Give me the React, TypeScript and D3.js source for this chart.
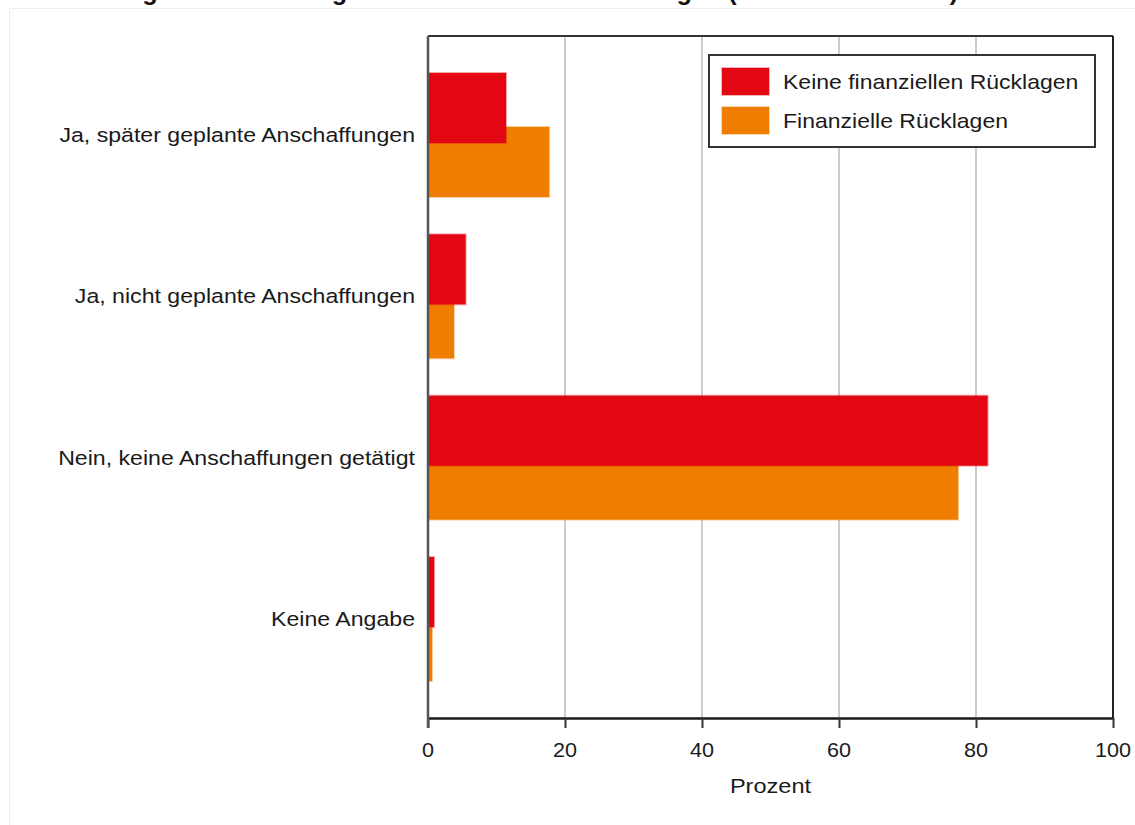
import React, { useEffect, useRef } from 'react';
import * as d3 from 'd3';

const categories = [
  'Ja, später geplante Anschaffungen',
  'Ja, nicht geplante Anschaffungen',
  'Nein, keine Anschaffungen getätigt',
  'Keine Angabe',
];

const seriesNames = ['Keine finanziellen Rücklagen', 'Finanzielle Rücklagen'];
const seriesColors = ['#e30613', '#ef7d00'];

// values in percent
const keineRuecklagen = [11.4, 5.5, 81.7, 0.9];
const ruecklagen = [17.7, 3.8, 77.4, 0.6];

const xTicks = [0, 20, 40, 60, 80, 100];

const title = 'Abbildung 5: Anschaffungen nach finanziellen Rücklagen (Anteile in Prozent)';

const App: React.FC = () => {
  const svgRef = useRef<SVGSVGElement>(null);
  const width = 1135;
  const height = 825;

  useEffect(() => {
    if (!svgRef.current) return;
    const svg = d3.select(svgRef.current);
    svg.selectAll('*').remove();

    const font = '"Liberation Sans", Arial, sans-serif';
    const sx = 1.15; // the source text is a bit wider than Liberation Sans
    const margin = { top: 36, right: 22, bottom: 107, left: 428 };
    const innerW = width - margin.left - margin.right;
    const innerH = height - margin.top - margin.bottom;

    // helper for horizontally stretched text
    const addText = (parent: any, x: number, y: number, txt: string, anchor = 'start', size = 20, scale = sx) =>
      parent.append('text')
        .attr('transform', `translate(${x},${y}) scale(${scale},1)`)
        .attr('text-anchor', anchor)
        .style('font-family', font)
        .style('font-size', `${size}px`)
        .attr('fill', '#1a1a1a')
        .text(txt);

    // faint outer frame
    svg.append('rect')
      .attr('x', 9.5).attr('y', 8.5)
      .attr('width', width).attr('height', height)
      .attr('fill', 'none')
      .attr('stroke', '#eeeeee');

    // title, mostly cut off at the top edge
    addText(svg, 33, 0, title, 'start', 26, 0.97)
      .style('font-weight', 'bold')
      .attr('fill', '#111');

    const g = svg.append('g')
      .attr('transform', `translate(${margin.left},${margin.top})`);

    const x = d3.scaleLinear().domain([0, 100]).range([0, innerW]);
    const y0 = d3.scaleBand<string>()
      .domain(categories)
      .range([0, innerH])
      .paddingInner(0.231)
      .paddingOuter(0.229);

    const bw = y0.bandwidth();
    const barH = bw * 0.565;
    const y1 = d3.scalePoint<string>()
      .domain(seriesNames)
      .range([0, bw - barH]);

    // gridlines
    g.append('g')
      .selectAll('line')
      .data(xTicks.filter(t => t > 0 && t < 100))
      .enter().append('line')
      .attr('x1', d => x(d)).attr('x2', d => x(d))
      .attr('y1', 0).attr('y2', innerH)
      .attr('stroke', '#cccccc')
      .attr('stroke-width', 2);

    // bars: orange first, red on top
    const seriesData = [keineRuecklagen, ruecklagen];
    [1, 0].forEach(si => {
      g.append('g')
        .selectAll('rect')
        .data(categories)
        .enter().append('rect')
        .attr('x', 1)
        .attr('y', c => (y0(c) ?? 0) + (y1(seriesNames[si]) ?? 0))
        .attr('width', (c, i) => Math.max(0, x(seriesData[si][i]) - 1))
        .attr('height', barH)
        .attr('fill', seriesColors[si])
        .attr('stroke', seriesColors[si])
        .attr('stroke-opacity', 0.3)
        .attr('stroke-width', 2);
    });

    // frame: top and right
    g.append('line')
      .attr('x1', 0).attr('x2', innerW).attr('y1', 0).attr('y2', 0)
      .attr('stroke', '#333').attr('stroke-width', 2);
    g.append('line')
      .attr('x1', innerW).attr('x2', innerW).attr('y1', 0).attr('y2', innerH)
      .attr('stroke', '#222').attr('stroke-width', 2);

    // x axis
    const xAxis = g.append('g')
      .attr('transform', `translate(0,${innerH})`)
      .call(d3.axisBottom(x).tickValues(xTicks).tickSize(10).tickSizeOuter(0).tickFormat(() => ''));
    xAxis.select('.domain').attr('stroke', '#1a1a1a').attr('stroke-width', 2.5);
    xAxis.selectAll('.tick line').attr('stroke', '#333').attr('stroke-width', 2);
    xTicks.forEach(t => {
      addText(g, x(t), innerH + 39, String(t), 'middle', 20, 1.08);
    });

    // y axis line
    g.append('line')
      .attr('x1', 0).attr('x2', 0).attr('y1', 0).attr('y2', innerH + 10)
      .attr('stroke', '#555').attr('stroke-width', 2.5);

    // category labels
    categories.forEach(c => {
      addText(g, -13, (y0(c) ?? 0) + barH - 1, c, 'end', 20.5, 1.128);
    });

    // x axis title
    addText(svg, margin.left + innerW / 2, 793, 'Prozent', 'middle', 20.5);

    // legend
    const legend = svg.append('g').attr('transform', 'translate(709,55)');
    legend.append('rect')
      .attr('width', 386).attr('height', 92)
      .attr('fill', '#fff')
      .attr('stroke', '#333')
      .attr('stroke-width', 2);
    seriesNames.forEach((name, i) => {
      const row = legend.append('g').attr('transform', `translate(13, ${13 + i * 39})`);
      row.append('rect')
        .attr('width', 47).attr('height', 27)
        .attr('fill', seriesColors[i])
        .attr('stroke', seriesColors[i])
        .attr('stroke-opacity', 0.3)
        .attr('stroke-width', 2);
      addText(row, 61, 21, name, 'start', 20);
    });
  }, []);

  return (
    <svg
      ref={svgRef}
      width={width}
      height={height}
      style={{ position: 'absolute', left: 0, top: 0, background: '#fff' }}
    />
  );
};

export default App;
